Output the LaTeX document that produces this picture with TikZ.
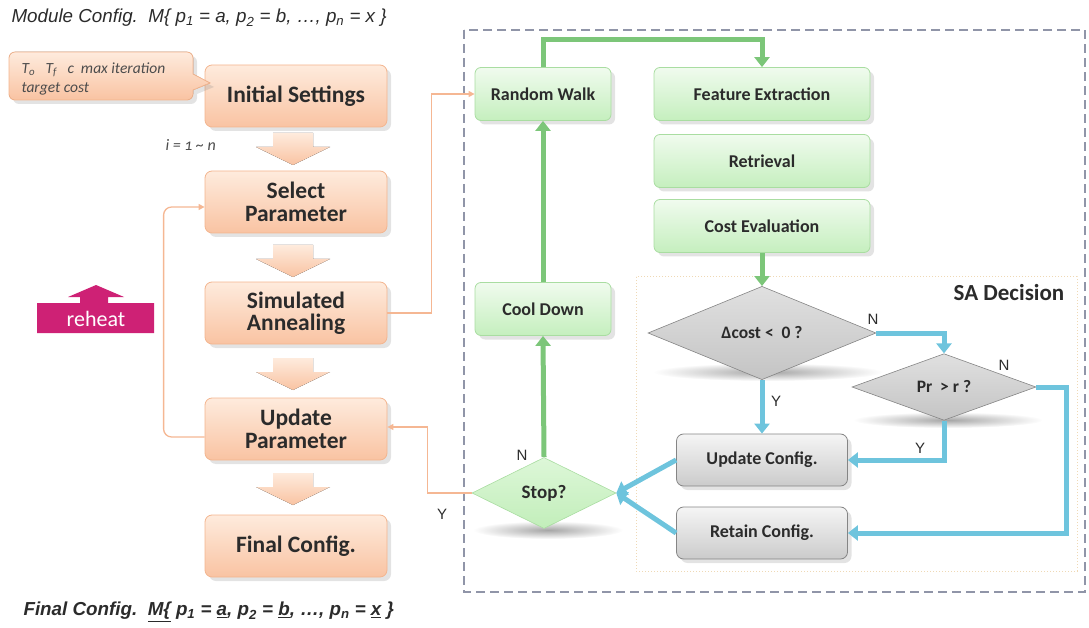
\documentclass[tikz,border=0pt]{standalone}
\usepackage{fontspec}
\setmainfont{Carlito}
\newfontfamily\arialf{Liberation Sans}
\usetikzlibrary{shapes.geometric,shadows,arrows.meta}

\definecolor{obord}{HTML}{F3B58F}
\definecolor{otop}{HTML}{FEEBDD}
\definecolor{obot}{HTML}{F9C3A2}
\definecolor{gbord}{HTML}{A9DDA1}
\definecolor{gtop}{HTML}{F0FBEE}
\definecolor{gbot}{HTML}{C5EFBE}
\definecolor{grbord}{HTML}{858585}
\definecolor{grtop}{HTML}{F5F5F5}
\definecolor{grbot}{HTML}{CBCBCB}
\definecolor{dtop}{HTML}{E0E0E0}
\definecolor{dbot}{HTML}{C4C4C4}
\definecolor{sttop}{HTML}{DDF7D8}
\definecolor{stbot}{HTML}{C2EEBA}
\definecolor{garr}{HTML}{7CC679}
\definecolor{barr}{HTML}{6EC4DD}
\definecolor{oline}{HTML}{F5B793}
\definecolor{magentaA}{HTML}{CE2175}
\definecolor{dashc}{HTML}{9095A8}
\definecolor{dotc}{HTML}{EFD9B5}
\definecolor{txt}{HTML}{2B2B2B}

\newcommand\myblockarrow[2]{%
  \fill[top color=otop,bottom color=obot]
    (#1-20,#2) -- (#1+20,#2) -- (#1+20,#2+14) -- (#1+37,#2+14) --
    (#1,#2+32) -- (#1-37,#2+14) -- (#1-20,#2+14) -- cycle;}

\begin{document}
\begin{tikzpicture}[x=1pt,y=-1pt,
  bshadow/.style={drop shadow={shadow xshift=4pt,shadow yshift=-4pt,opacity=0.22}},
  obox/.style={rectangle, rounded corners=7pt, draw=obord, line width=0.8pt,
    top color=otop, bottom color=obot, minimum width=182pt, minimum height=62pt,
    align=center, font=\bfseries\fontsize{23.5}{22.5}\selectfont, text=txt, bshadow},
  gbox/.style={rectangle, rounded corners=6pt, draw=gbord, line width=0.8pt,
    top color=gtop, bottom color=gbot, minimum height=53pt,
    align=center, font=\bfseries\fontsize{18}{21}\selectfont, text=txt, bshadow},
  grbox/.style={rectangle, rounded corners=7pt, draw=grbord, line width=0.8pt,
    top color=grtop, bottom color=grbot, minimum width=171pt, minimum height=52pt,
    align=center, font=\bfseries\fontsize{18}{21}\selectfont, text=txt, bshadow},
  dia/.style={diamond, inner sep=0pt, draw=grbord, line width=0.6pt,
    top color=dtop, bottom color=dbot, font=\bfseries\fontsize{17.5}{20}\selectfont, text=txt},
  oarrow/.style={draw=oline, line width=1.3pt, -{Triangle[length=6pt,width=6pt]}},
  garrow/.style={draw=garr, line width=5pt, -{Triangle[length=10pt,width=15pt]}},
  barrow/.style={draw=barr, line width=5pt, -{Triangle[length=10pt,width=15pt]}},
  lbl/.style={font=\arialf\fontsize{15}{17}\selectfont, text=txt},
  dshadow/.style={inner color=black!35, outer color=white}
]
\useasboundingbox (0,0) rectangle (1089,628);

% titles
\node[anchor=west, font=\arialf\itshape\fontsize{18.8}{22}\selectfont, text=txt] (mc) at (8,18)
  {Module Config.\ \ M\{ p\textsubscript{1} = a, p\textsubscript{2} = b, …, p\textsubscript{n} = x \}};
\node[anchor=west, font=\arialf\bfseries\itshape\fontsize{18.8}{22}\selectfont, text=txt] (fc) at (20,612)
  {Final Config.\ \ \underline{M\{} p\textsubscript{1} = \underline{a}, p\textsubscript{2} = \underline{b}, …, p\textsubscript{n} = \underline{x} \}};

% frames
\draw[dashc, line width=2pt, dash pattern=on 9pt off 5pt] (464,30) rectangle (1085,592);
\draw[dotc, line width=1pt, dotted] (636,277) rectangle (1077,571);
\node[font=\bfseries\fontsize{23}{25}\selectfont, text=txt] (sad) at (1009,293) {SA Decision};

% left column
\node[obox] (is) at (296,96) {Initial Settings};
\node[obox] (sp) at (296,202) {Select\\Parameter};
\node[obox] (sa) at (296,313) {Simulated\\Annealing};
\node[obox] (up) at (296,429) {Update\\Parameter};
\node[obox] (fin) at (296,546) {Final Config.};

\myblockarrow{293}{133}
\myblockarrow{293}{245}
\myblockarrow{293}{358}
\myblockarrow{293}{473}

\node[anchor=west, font=\itshape\fontsize{16}{18}\selectfont\addfontfeatures{Numbers=OldStyle}, text=black!70] (iter) at (162,145) {i = 1 \char`\~{} n};

% callout
\filldraw[draw=obord, line width=0.8pt, top color=otop, bottom color=obot, bshadow]
  (100,52) [rounded corners=6pt] -- (193,52) [sharp corners] -- (193,74) -- (210,83) -- (193,90)
  [rounded corners=6pt] -- (193,100) -- (9,100) -- (9,52) -- (100,52);
\node[anchor=west, font=\itshape\fontsize{15.5}{18}\selectfont, text=black!70] (co1) at (18,70)
  {T\textsubscript{o}\ \ \ T\textsubscript{f}\ \ \ c\ \ max iteration};
\node[anchor=west, font=\itshape\fontsize{15.5}{18}\selectfont, text=black!70] (co2) at (18,89) {target cost};

% reheat
\fill[magentaA] (37,333) -- (154,333) -- (154,303) -- (108,303) -- (108,297) -- (124,297)
  -- (96,285) -- (68,297) -- (80,297) -- (80,303) -- (37,303) -- cycle;
\node[font=\fontsize{22}{24}\selectfont, text=white] (rh) at (96,319) {reheat};

% right part: green boxes
\node[gbox, minimum width=136pt] (rw) at (543,94) {Random Walk};
\node[gbox, minimum width=216pt] (fe) at (762,94) {Feature Extraction};
\node[gbox, minimum width=216pt] (rt) at (762,161) {Retrieval};
\node[gbox, minimum width=216pt] (ce) at (762,226) {Cost Evaluation};
\node[gbox, minimum width=136pt] (cd) at (543,309) {Cool Down};

% diamonds with soft shadows
\shade[dshadow] (768,372) ellipse (115pt and 9pt);
\shade[dshadow] (948,420) ellipse (95pt and 8pt);
\shade[dshadow] (548,530) ellipse (75pt and 9pt);
\node[dia, minimum width=228pt, minimum height=71pt] (dc) at (762,333) {Δcost <\ \ 0 ?};
\node[dia, minimum width=184pt, minimum height=61pt] (pr) at (944,387) {Pr \ > r ?};
\node[dia, draw=gbord, top color=sttop, bottom color=stbot, font=\bfseries\fontsize{19}{22}\selectfont,
  minimum width=144pt, minimum height=71pt] (st) at (544,493) {Stop?};

% gray boxes
\node[grbox] (uc) at (762,460) {Update Config.};
\node[grbox] (rc) at (762,533) {Retain Config.};

% green arrows
\draw[garrow] (rw.north) -- ++(0,-28) -| (fe.north);
\draw[garrow] (ce.south) -- (dc.north);
\draw[garrow] (st.north) -- (cd.south);
\draw[garrow] (cd.north) -- (rw.south);

% blue arrows
\draw[barrow] (dc.east) -| (pr.north);
\draw[barrow] (dc.south) -- (uc.north);
\draw[barrow] (pr.east) -- ++(30,0) |- (rc.east);
\draw[barrow] (pr.south) |- (uc.east);
\draw[barrow] (uc.west) -- (st.east);
\draw[barrow] (rc.west) -- (st.east);

% orange thin connectors
\draw[oarrow] (sa.east) -- ++(44,0) |- (rw.west);
\draw[oarrow] (st.west) -- ++(-44,0) |- ([yshift=2pt]up.east);
\draw[oarrow, rounded corners=8pt] ([yshift=-8pt]up.west) -- ++(-41,0) |- ([yshift=-5pt]sp.west);

% labels
\node[lbl] (ln1) at (873,319) {N};
\node[lbl] (ly1) at (776,401) {Y};
\node[lbl] (ln2) at (1004,365) {N};
\node[lbl] (ly2) at (920,448) {Y};
\node[lbl] (ln3) at (522,455) {N};
\node[lbl] (ly3) at (442,514) {Y};
\end{tikzpicture}
\end{document}
